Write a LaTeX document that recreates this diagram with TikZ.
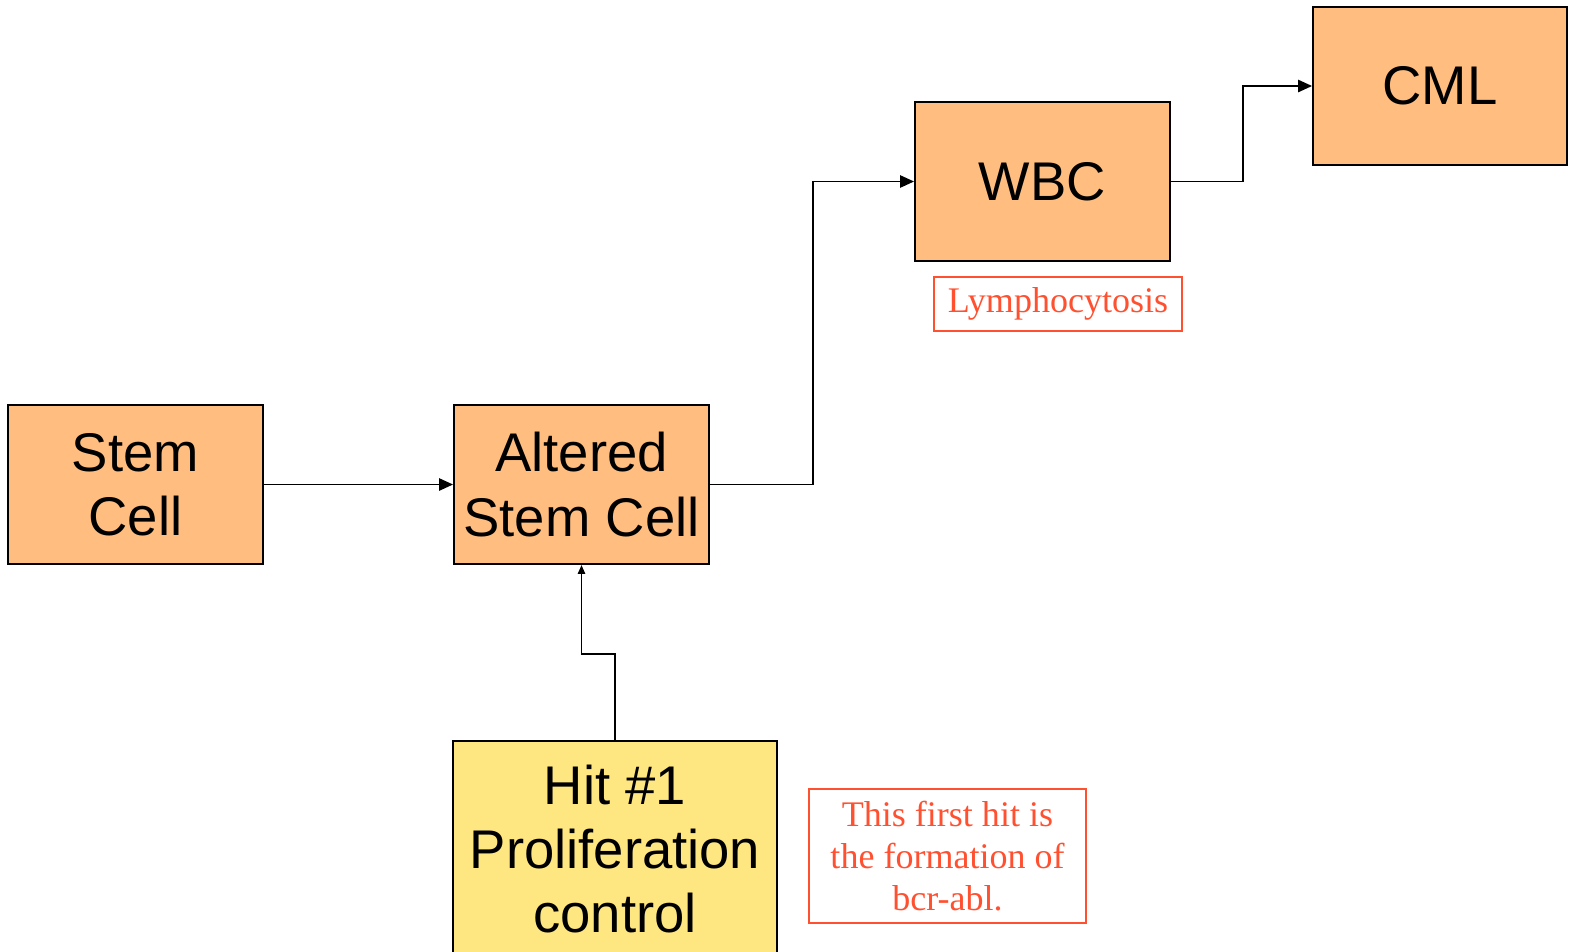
\documentclass[tikz,border=0pt]{standalone}
\usepackage{fontspec}
\setmainfont{Liberation Sans}
\newfontfamily\notefont{Liberation Serif}
\usetikzlibrary{arrows.meta}
\definecolor{cellorange}{RGB}{255,190,128}
\definecolor{hityellow}{RGB}{254,230,128}
\definecolor{notered}{RGB}{255,80,48}
\begin{document}
\begin{tikzpicture}[x=0.02cm,y=-0.02cm,
    cellbox/.style={draw=black,line width=1.1pt,fill=cellorange,minimum width=5.1cm,
      minimum height=3.18cm,align=center,inner sep=0pt,
      font=\fontsize{31}{36.5}\selectfont},
    notebox/.style={draw=notered,line width=1.1pt,text=notered,align=center,inner sep=0pt,
      font=\notefont\fontsize{20.5}{24}\selectfont},
    link/.style={line width=1.1pt,-{Triangle[length=8pt,width=7pt]}}]
% page size
    \useasboundingbox (0,0) rectangle (1577,951);

% boxes of the chain
    \node[cellbox] (stem) at (135.5,484.5) {Stem\\Cell};
    \node[cellbox] (altered) at (581.5,484.5) {Altered\\Stem Cell};
    \node[cellbox] (wbc) at (1042.5,181.5) {\raisebox{-2pt}{WBC}};
    \node[cellbox,minimum width=5.08cm,minimum height=3.16cm] (cml) at (1440,86) {\raisebox{-2pt}{CML}};

% the first hit, cut off at the bottom
    \begin{scope}
    \clip (0,0) rectangle (1577,951);
    \node[cellbox,fill=hityellow,minimum width=6.48cm,minimum height=4.32cm] (hit) at (615,849) {Hit \#1\\Proliferation\\control};
    \end{scope}

% red notes
    \node[notebox,minimum width=4.96cm,minimum height=1.08cm] (lymph) at (1058,304) {Lymphocytosis};
    \node[notebox,minimum width=5.54cm,minimum height=2.68cm] (note) at (947.5,856) {This first hit is\\the formation of\\bcr-abl.};

% connectors
    \draw[link] (stem) -- (altered);
    \draw[link] (altered.east) -- ++(103,0) |- (wbc.west);
    \draw[link] (wbc.east) -- ++(72,0) |- (cml.west);
    \draw[line width=1.1pt,-{Triangle[length=5pt,width=4pt]}] (hit.north) -- ++(0,-86) -| (altered.south);

\end{tikzpicture}
\end{document}
